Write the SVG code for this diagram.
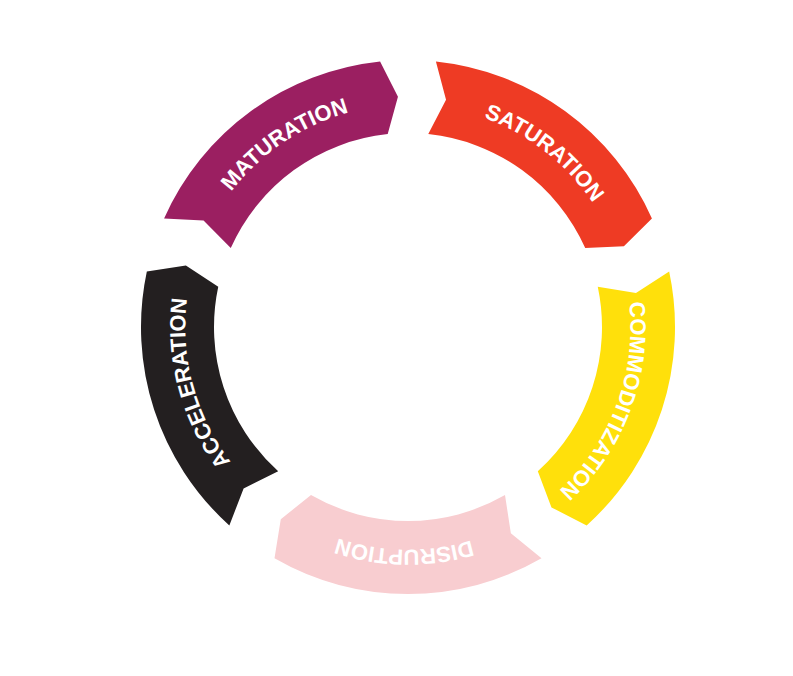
<svg xmlns="http://www.w3.org/2000/svg" width="793" height="676" viewBox="0 0 793 676">
  <style>
    .lbl { font-family: "Liberation Sans", Arial, Helvetica, sans-serif; font-weight: bold; font-size: 22px; fill: #ffffff; }
  </style>
  <defs>
    <path id="tp-mat" d="M 213.31 434.92 A 222.6 222.6 0 0 1 580.99 186.91"/>
    <path id="tp-sat" d="M 245.20 175.19 A 222.6 222.6 0 0 1 594.69 448.24"/>
    <path id="tp-com" d="M 503.83 126.09 A 222.6 222.6 0 0 1 348.51 541.50"/>
    <path id="tp-dis" d="M 629.38 350.27 A 222.6 222.6 0 0 1 185.94 342.53"/>
    <path id="tp-acc" d="M 446.65 546.22 A 222.6 222.6 0 0 1 331.87 117.82"/>
  </defs>
  <rect width="793" height="676" fill="#ffffff"/>
  <g id="maturation">
    <path fill="#9B1F61" d="M 164.08 218.40 A 267 267 0 0 1 380.09 61.46 L 397.95 96.72 L 387.72 134.06 A 194 194 0 0 0 230.77 248.09 L 203.54 220.57 Z"/>
    <text class="lbl"><textPath href="#tp-mat" startOffset="50%" text-anchor="middle">MATURATION</textPath></text>
  </g>
  <g id="saturation">
    <path fill="#EE3B24" d="M 435.91 61.46 A 267 267 0 0 1 651.92 218.40 L 623.90 246.28 L 585.23 248.09 A 194 194 0 0 0 428.28 134.06 L 446.04 99.66 Z"/>
    <text class="lbl"><textPath href="#tp-sat" startOffset="50%" text-anchor="middle">SATURATION</textPath></text>
  </g>
  <g id="commoditization">
    <path fill="#FFE00B" d="M 669.17 271.49 A 267 267 0 0 1 586.66 525.42 L 551.49 507.39 L 537.81 471.17 A 194 194 0 0 0 597.76 286.67 L 635.97 292.93 Z"/>
    <text class="lbl"><textPath href="#tp-com" startOffset="50%" text-anchor="middle">COMMODITIZATION</textPath></text>
  </g>
  <g id="disruption">
    <path fill="#F8CDD0" d="M 541.50 558.23 A 267 267 0 0 1 274.50 558.23 L 280.78 519.21 L 311.00 495.01 A 194 194 0 0 0 505.00 495.01 L 510.85 533.28 Z"/>
    <text class="lbl"><textPath href="#tp-dis" startOffset="50%" text-anchor="middle">DISRUPTION</textPath></text>
  </g>
  <g id="acceleration">
    <path fill="#231F20" d="M 229.34 525.42 A 267 267 0 0 1 146.83 271.49 L 185.88 265.40 L 218.24 286.67 A 194 194 0 0 0 278.19 471.17 L 243.60 488.56 Z"/>
    <text class="lbl"><textPath href="#tp-acc" startOffset="50%" text-anchor="middle">ACCELERATION</textPath></text>
  </g>
  <g id="connectors"></g>
</svg>
